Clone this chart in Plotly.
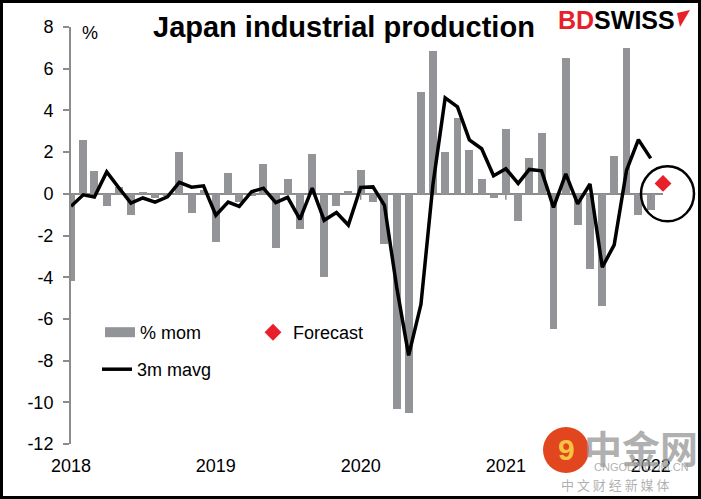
import plotly.graph_objects as go
import pandas as pd

# ---------------- data ----------------
months = pd.date_range("2018-01-01", "2022-01-01", freq="MS").strftime("%Y-%m-%d").tolist()

mom = [
    -4.2, 2.6, 1.1, -0.6, 0.35, -1.0, 0.1, -0.2, -0.1, 2.0, -0.9, 0.2,      # 2018
    -2.3, 1.0, -0.4, -0.1, 1.45, -2.6, 0.7, -1.7, 1.9, -4.0, -0.6, 0.15,    # 2019
    1.15, -0.4, -2.4, -10.3, -10.5, 4.9, 6.85, 2.0, 3.65, 2.1, 0.7, -0.2,   # 2020
    3.1, -1.3, 1.7, 2.9, -6.5, 6.5, -1.5, -3.6, -5.4, 1.8, 7.0, -1.0,       # 2021
    -0.8,                                                                   # 2022
]

mavg3 = [
    -0.6, -0.05, -0.15, 1.05, 0.3, -0.45, -0.2, -0.4, -0.15, 0.55, 0.32, 0.38,
    -1.03, -0.4, -0.6, 0.1, 0.27, -0.42, -0.17, -1.23, 0.27, -1.27, -0.9, -1.5,
    0.3, 0.33, -0.55, -4.5, -7.75, -5.3, 0.42, 4.6, 4.17, 2.59, 2.16, 0.87,
    1.2, 0.5, 1.17, 1.1, -0.65, 0.96, -0.48, 0.47, -3.52, -2.45, 1.12, 2.6,
    1.7,
]

forecast_month = ["2022-02-01"]
forecast_value = [0.5]

year_ticks = ["2018-01-01", "2019-01-01", "2020-01-01", "2021-01-01", "2022-01-01"]
year_labels = ["2018", "2019", "2020", "2021", "2022"]
y_ticks = list(range(-12, 9, 2))
x_range = ["2018-01-01", forecast_month[0]]
y_range = [-12, 8]

# ---------------- styling ----------------
W, H = 701, 499
ML, MR, MT, MB = 71, 38, 27, 55
PW, PH = W - ML - MR, H - MT - MB


def px_x(x):
    return (x - ML) / PW


def px_y(y):
    return (H - MB - y) / PH


def date_frac(d):
    t0, t1 = pd.Timestamp(x_range[0]), pd.Timestamp(x_range[1])
    return (pd.Timestamp(d) - t0) / (t1 - t0)


def val_frac(v):
    return (v - y_range[0]) / (y_range[1] - y_range[0])


FONT = "Liberation Sans, Arial, sans-serif"
BAR_COL = "#939498"
AXIS_COL = "#8c8c8c"
RED = "#e8202a"
DAY_MS = 24 * 3600 * 1000

fig = go.Figure()

fig.add_trace(go.Bar(
    x=months, y=mom, width=[20 * DAY_MS] * len(months),
    marker=dict(color=BAR_COL, line=dict(width=0)),
    name="% mom", showlegend=False,
))
# legend swatch for bars
fig.add_trace(go.Scatter(
    x=[None], y=[None], mode="lines", name="% mom",
    line=dict(color=BAR_COL, width=10), legend="legend",
))
fig.add_trace(go.Scatter(
    x=months, y=mavg3, mode="lines", name="3m mavg",
    line=dict(color="black", width=3.5), legend="legend2",
))
fig.add_trace(go.Scatter(
    x=forecast_month, y=forecast_value, mode="markers", name="Forecast",
    marker=dict(symbol="diamond", color=RED, size=13), cliponaxis=False,
    legend="legend",
))

shapes = []
# small year tick marks on the zero line
for t in year_ticks[1:]:
    shapes.append(dict(type="line", xref="x", yref="y", x0=t, x1=t,
                       ysizemode="pixel", yanchor=0, y0=-6, y1=0,
                       line=dict(color=AXIS_COL, width=1.5)))
# highlight circle round the forecast (paper ref so it is not clipped)
shapes.append(dict(type="circle", xref="paper", yref="paper",
                   xsizemode="pixel", ysizemode="pixel",
                   xanchor=date_frac(forecast_month[0]), yanchor=val_frac(0),
                   x0=-22, x1=31, y0=-27.5, y1=27.5,
                   line=dict(color="black", width=2.5)))
# outer frame
shapes.append(dict(type="rect", xref="paper", yref="paper",
                   x0=px_x(1.5), x1=px_x(W - 1.5), y0=px_y(H - 1.5), y1=px_y(1.5),
                   line=dict(color="black", width=3), layer="above"))
# BDSWISS flag
shapes.append(dict(type="path", xref="paper", yref="paper",
                   xsizemode="pixel", ysizemode="pixel",
                   xanchor=px_x(676), yanchor=px_y(20),
                   path="M 1,7 L 14,10 L 4,-7 Z",
                   fillcolor=RED, line=dict(width=0)))
# watermark logo circle
shapes.append(dict(type="circle", xref="paper", yref="paper",
                   xsizemode="pixel", ysizemode="pixel",
                   xanchor=px_x(566), yanchor=px_y(450),
                   x0=-23, x1=23, y0=-23, y1=23,
                   fillcolor="#e1461e", line=dict(width=0), layer="above"))

WM = "rgba(150,150,150,0.75)"
annotations = [
    dict(text="<b>Japan industrial production</b>", xref="paper", yref="paper",
         x=px_x(344), y=px_y(27), xanchor="center", yanchor="middle",
         showarrow=False, font=dict(family=FONT, size=29, color="black")),
    dict(text="<b><span style='color:%s'>BD</span>SWISS</b>" % RED, xref="paper", yref="paper",
         x=px_x(616), y=px_y(20), xanchor="center", yanchor="middle",
         showarrow=False, font=dict(family=FONT, size=25, color="black")),
    dict(text="%", xref="paper", yref="paper", x=px_x(90), y=px_y(33),
         xanchor="center", yanchor="middle", showarrow=False,
         font=dict(family=FONT, size=18, color="black")),
    dict(text="<b>中金网</b>", xref="paper", yref="paper", x=px_x(641), y=px_y(446),
         xanchor="center", yanchor="middle", showarrow=False,
         font=dict(family="Noto Sans CJK SC", size=38, color=WM)),
    dict(text="CNGOLD.COM.CN", xref="paper", yref="paper", x=px_x(641), y=px_y(467),
         xanchor="center", yanchor="middle", showarrow=False,
         font=dict(family=FONT, size=11, color=WM)),
    dict(text="中 文 财 经 新 媒 体", xref="paper", yref="paper", x=px_x(615), y=px_y(484),
         xanchor="center", yanchor="middle", showarrow=False,
         font=dict(family="Noto Sans CJK SC", size=13, color=WM)),
    dict(text="<b>9</b>", xref="paper", yref="paper", x=px_x(566), y=px_y(450),
         xanchor="center", yanchor="middle", showarrow=False,
         font=dict(family=FONT, size=30, color="#f6c343")),
]

fig.update_layout(
    width=W, height=H,
    margin=dict(l=ML, r=MR, t=MT, b=MB),
    paper_bgcolor="white", plot_bgcolor="white",
    font=dict(family=FONT, size=18, color="black"),
    bargap=0,
    shapes=shapes,
    annotations=annotations,
    legend=dict(orientation="h", x=px_x(100), y=px_y(314), xanchor="left", yanchor="top",
                entrywidth=108, entrywidthmode="pixels",
                bgcolor="rgba(0,0,0,0)", font=dict(family=FONT, size=18, color="black"),
                itemclick=False),
    legend2=dict(orientation="v", x=px_x(97), y=px_y(351), xanchor="left", yanchor="top",
                 bgcolor="rgba(0,0,0,0)", font=dict(family=FONT, size=18, color="black")),
    xaxis=dict(
        type="date", range=x_range,
        tickvals=year_ticks, ticktext=year_labels, ticks="",
        showgrid=False, showline=False, zeroline=False,
        tickfont=dict(family=FONT, size=18, color="black"),
        ticklabelstandoff=9,
    ),
    yaxis=dict(
        range=y_range, tickvals=y_ticks, ticktext=[str(v) for v in y_ticks],
        ticks="outside", ticklen=6, tickwidth=1.5, tickcolor=AXIS_COL,
        showline=True, linecolor=AXIS_COL, linewidth=2,
        showgrid=False, zeroline=True, zerolinecolor=AXIS_COL, zerolinewidth=2,
        tickfont=dict(family=FONT, size=18, color="black"),
        ticklabelstandoff=6,
    ),
)

fig.write_html("out.html")
